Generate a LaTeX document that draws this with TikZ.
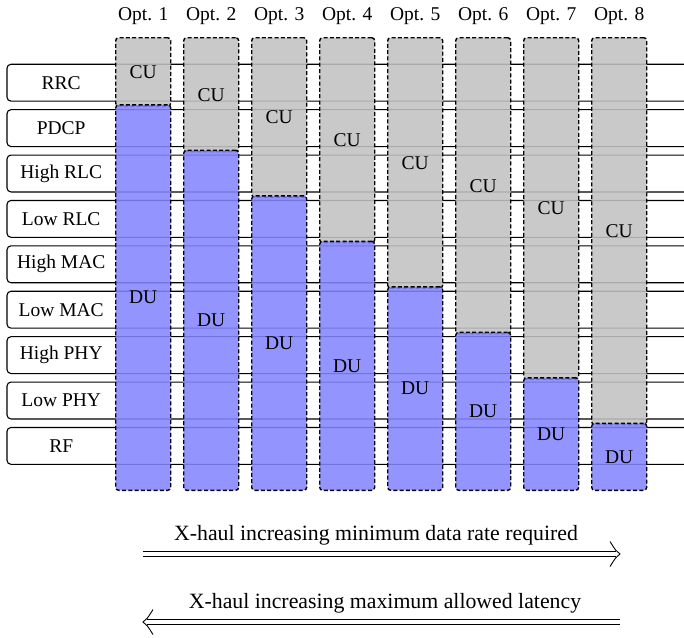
\documentclass[tikz,border=0pt]{standalone}
\usepackage{fontspec}
\setmainfont{Liberation Serif}
\usetikzlibrary{arrows.meta,positioning}

\begin{document}
\begin{tikzpicture}[x=1pt,y=-1pt,font=\fontsize{19.5}{22}\selectfont,
  layer/.style={minimum width=108pt,minimum height=36.5pt,inner sep=0pt,anchor=west},
  layerline/.style={line width=1.1pt,rounded corners=4pt},
  cu/.style={draw,dash pattern=on 4pt off 2.3pt,line width=1.4pt,rounded corners=3pt,fill=gray!48,fill opacity=0.88,text opacity=1,minimum width=55pt,inner sep=0pt,anchor=north},
  du/.style={draw,dash pattern=on 4pt off 2.3pt,line width=1.4pt,rounded corners=3pt,fill=blue!48,fill opacity=0.88,text opacity=1,minimum width=55pt,inner sep=0pt,anchor=south},
  haul/.style={double=white,double distance=3.6pt,line width=0.8pt,shorten >=4pt},
  chevron/.style={line width=0.9pt},
  haultext/.style={font=\fontsize{21.8}{24}\selectfont}]
\useasboundingbox (0,0) rectangle (684,637);
\coordinate (edge) at (684,0);
% protocol layers
\node[layer] (rrc) at (7,82.7) {RRC};
\node[layer] (pdcp) at (7,128.1) {PDCP};
\node[layer] (hrlc) at (7,173.5) {High RLC};
\node[layer] (lrlc) at (7,218.9) {Low RLC};
\node[layer] (hmac) at (7,264.3) {High MAC};
\node[layer] (lmac) at (7,309.7) {Low MAC};
\node[layer] (hphy) at (7,355.1) {High PHY};
\node[layer] (lphy) at (7,400.5) {Low PHY};
\node[layer] (rf) at (7,445.9) {RF};
\foreach \l in {rrc,pdcp,hrlc,lrlc,hmac,lmac,hphy,lphy,rf}
  \draw[layerline] (\l.north -| edge) -- (\l.north west) -- (\l.south west) -- (\l.south -| edge);
% split options
\node[cu,minimum height=68.5pt] (cu1) at (143.2,37) {CU};
\node[du,minimum height=385.5pt] (du1) at (143.2,491) {DU};
\node[cu,minimum height=114pt] (cu2) at (211.2,37) {CU};
\node[du,minimum height=340pt] (du2) at (211.2,491) {DU};
\node[cu,minimum height=159.5pt] (cu3) at (279.2,37) {CU};
\node[du,minimum height=294.5pt] (du3) at (279.2,491) {DU};
\node[cu,minimum height=205pt] (cu4) at (347.2,37) {CU};
\node[du,minimum height=249pt] (du4) at (347.2,491) {DU};
\node[cu,minimum height=250.5pt] (cu5) at (415.2,37) {CU};
\node[du,minimum height=203.5pt] (du5) at (415.2,491) {DU};
\node[cu,minimum height=296pt] (cu6) at (483.2,37) {CU};
\node[du,minimum height=158pt] (du6) at (483.2,491) {DU};
\node[cu,minimum height=341.5pt] (cu7) at (551.2,37) {CU};
\node[du,minimum height=112.5pt] (du7) at (551.2,491) {DU};
\node[cu,minimum height=387pt] (cu8) at (619.2,37) {CU};
\node[du,minimum height=67pt] (du8) at (619.2,491) {DU};
\node[above=9pt of cu1] (opt1) {Opt. 1};
\node[above=9pt of cu2] (opt2) {Opt. 2};
\node[above=9pt of cu3] (opt3) {Opt. 3};
\node[above=9pt of cu4] (opt4) {Opt. 4};
\node[above=9pt of cu5] (opt5) {Opt. 5};
\node[above=9pt of cu6] (opt6) {Opt. 6};
\node[above=9pt of cu7] (opt7) {Opt. 7};
\node[above=9pt of cu8] (opt8) {Opt. 8};
% x-haul requirements
\coordinate (rate1) at (143,554);
\coordinate (rate2) at (620,554);
\coordinate (lat1) at (620,622);
\coordinate (lat2) at (143,622);
\draw[haul] (rate1) -- (rate2);
\draw[chevron] ([xshift=-10pt,yshift=12.5pt]rate2) .. controls ([xshift=-4pt,yshift=3pt]rate2) .. (rate2)
  .. controls ([xshift=-4pt,yshift=-3pt]rate2) .. ([xshift=-10pt,yshift=-12.5pt]rate2);
\draw[haul] (lat1) -- (lat2);
\draw[chevron] ([xshift=10pt,yshift=12.5pt]lat2) .. controls ([xshift=4pt,yshift=3pt]lat2) .. (lat2)
  .. controls ([xshift=4pt,yshift=-3pt]lat2) .. ([xshift=10pt,yshift=-12.5pt]lat2);
\node[haultext] (ratetext) at (376,535) {X-haul increasing minimum data rate required};
\node[haultext] (lattext) at (385,603) {X-haul increasing maximum allowed latency};
\end{tikzpicture}
\end{document}
